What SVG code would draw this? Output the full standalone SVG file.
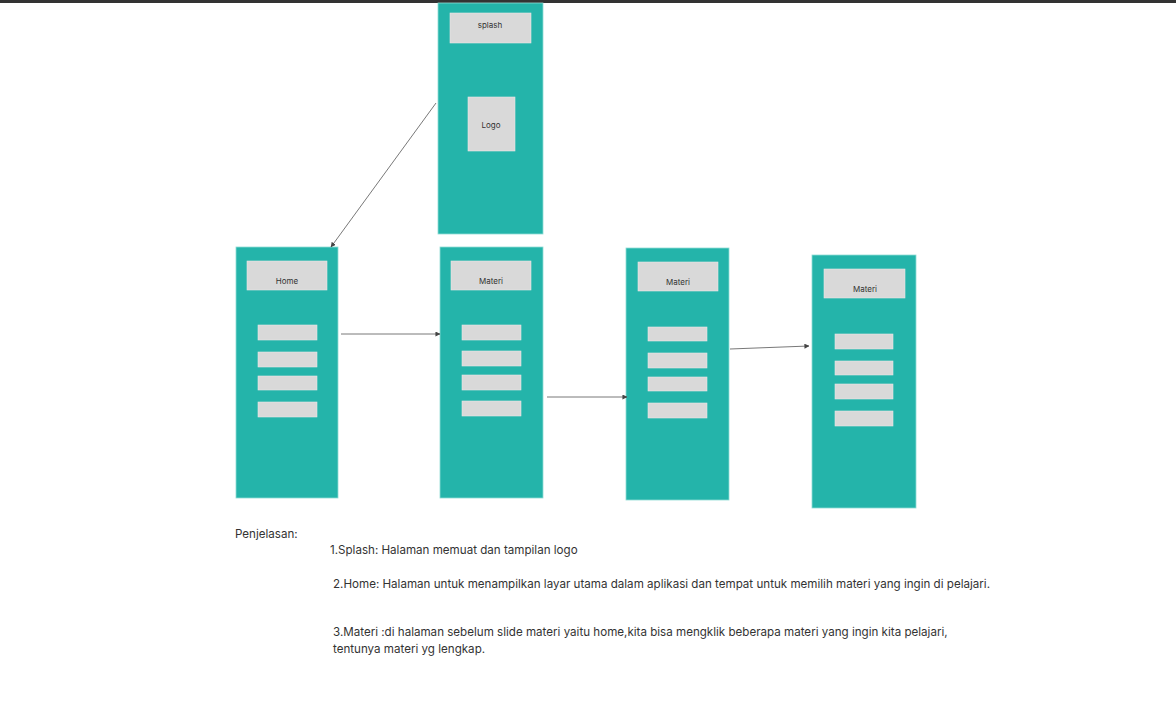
<svg xmlns="http://www.w3.org/2000/svg" width="1176" height="701" viewBox="0 0 1176 701">
<defs>
<style>
.phone{fill:#24b4aa;stroke:#8fdcd5;stroke-width:0.8}
.box{fill:#d9d9d9;stroke:#e8e8e8;stroke-width:0.6}
.lbl{font-family:Inter,"Liberation Sans",sans-serif;font-size:8px;fill:#333;text-anchor:middle}
.conn{stroke:#555;stroke-width:0.8;fill:none;marker-end:url(#ah)}
.txt{font-family:Inter,"Liberation Sans",sans-serif;font-size:11.6px;fill:#333}
</style>
<marker id="ah" viewBox="0 0 6 6" refX="5.5" refY="3" markerWidth="5" markerHeight="5" orient="auto" markerUnits="userSpaceOnUse"><path d="M0,0 L6,3 L0,6 Z" fill="#444"/></marker>
</defs>
<rect x="0" y="0" width="1176" height="701" fill="#fff"/>
<rect x="0" y="0" width="1176" height="3" fill="#333"/>
<g id="splash">
<rect class="phone" x="438" y="3" width="105" height="231"/>
<rect class="box" x="450" y="13" width="81" height="30"/>
<text class="lbl" x="490" y="28">splash</text>
<rect class="box" x="468" y="97" width="47" height="54"/>
<text class="lbl" x="491" y="128">Logo</text>
</g>
<g id="home">
<rect class="phone" x="236" y="247" width="102" height="251"/>
<rect class="box" x="247" y="261" width="80" height="29"/>
<text class="lbl" x="287" y="284">Home</text>
<rect class="box" x="258" y="325" width="59" height="15"/>
<rect class="box" x="258" y="352" width="59" height="15"/>
<rect class="box" x="258" y="376" width="59" height="14"/>
<rect class="box" x="258" y="402" width="59" height="15"/>
</g>
<g id="materi1">
<rect class="phone" x="440" y="247" width="103" height="251"/>
<rect class="box" x="451" y="261" width="80" height="29"/>
<text class="lbl" x="491" y="284">Materi</text>
<rect class="box" x="462" y="325" width="59" height="15"/>
<rect class="box" x="462" y="351" width="59" height="15"/>
<rect class="box" x="462" y="375" width="59" height="15"/>
<rect class="box" x="462" y="401" width="59" height="15"/>
</g>
<g id="materi2">
<rect class="phone" x="626" y="248" width="103" height="252"/>
<rect class="box" x="638" y="262" width="80" height="29"/>
<text class="lbl" x="678" y="285">Materi</text>
<rect class="box" x="648" y="327" width="59" height="14"/>
<rect class="box" x="648" y="353" width="59" height="15"/>
<rect class="box" x="648" y="377" width="59" height="14"/>
<rect class="box" x="648" y="403" width="59" height="15"/>
</g>
<g id="materi3">
<rect class="phone" x="812" y="255" width="104" height="253"/>
<rect class="box" x="824" y="269" width="81" height="29"/>
<text class="lbl" x="865" y="292">Materi</text>
<rect class="box" x="835" y="334" width="58" height="15"/>
<rect class="box" x="835" y="361" width="58" height="14"/>
<rect class="box" x="835" y="384" width="58" height="15"/>
<rect class="box" x="835" y="411" width="58" height="15"/>
</g>
<g id="connectors">
<line class="conn" x1="436" y1="103" x2="331" y2="247"/>
<line class="conn" x1="341" y1="334" x2="440" y2="334"/>
<line class="conn" x1="547" y1="397" x2="627" y2="397"/>
<line class="conn" x1="730" y1="349" x2="809" y2="346"/>
</g>
<g id="explanation">
<text class="txt" x="235" y="538">Penjelasan:</text>
<text class="txt" x="330" y="554">1.Splash: Halaman memuat dan tampilan logo</text>
<text class="txt" x="333" y="588">2.Home: Halaman untuk menampilkan layar utama dalam aplikasi dan tempat untuk memilih materi yang ingin di pelajari.</text>
<text class="txt" x="333" y="636">3.Materi :di halaman sebelum slide materi yaitu home,kita bisa mengklik beberapa materi yang ingin kita pelajari,</text>
<text class="txt" x="333" y="653">tentunya materi yg lengkap.</text>
</g>
</svg>
